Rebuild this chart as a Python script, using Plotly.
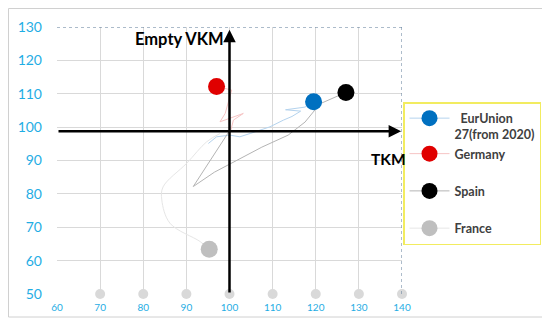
import plotly.graph_objects as go

# ---- data ----
countries = ["\u00a0\u00a0EurUnion<br>27(from 2020)", "Germany", "Spain", "France"]
final_tkm = [119.5, 97.0, 127.0, 95.3]
final_vkm = [107.6, 112.2, 110.4, 63.4]
marker_colors = ["#0070C0", "#E00000", "#000000", "#BFBFBF"]
trail_colors = ["#B4D3EE", "#F6C4C4", "#B4B4B4", "#E6E6E6"]
trail_shapes = ["linear", "linear", "linear", "spline"]
legend_groups = ["a", "a", "b", "c"]

eu_trail_x = [95.1, 97.0, 100.1, 102.4, 104.8, 109.4, 112.5, 114.5, 116.5, 113.0, 117.5, 119.5]
eu_trail_y = [95.1, 97.1, 97.6, 97.1, 98.1, 100.1, 102.1, 103.2, 104.8, 105.2, 106.0, 107.6]
de_trail_x = [100.3, 100.9, 103.2, 97.8, 99.0, 100.5, 97.0]
de_trail_y = [99.0, 102.1, 104.1, 101.6, 104.1, 111.1, 112.2]
es_trail_x = [100.1, 91.6, 96.5, 101.7, 107.5, 113.6, 117.5, 121.0, 127.0]
es_trail_y = [99.1, 82.2, 86.5, 90.1, 94.0, 97.6, 101.5, 107.0, 110.4]
fr_trail_x = [97.8, 94.7, 90.1, 84.6, 84.3, 86.2, 93.2, 95.3]
fr_trail_y = [98.1, 95.6, 89.2, 82.1, 78.2, 71.2, 65.7, 63.4]

base_x = [70, 80, 90, 100, 110, 120, 130, 140]
base_y = [50, 50, 50, 50, 50, 50, 50, 50]

x_ticks = [60, 70, 80, 90, 100, 110, 120, 130, 140]
y_ticks = [50, 60, 70, 80, 90, 100, 110, 120, 130]

trails_x = [eu_trail_x, de_trail_x, es_trail_x, fr_trail_x]
trails_y = [eu_trail_y, de_trail_y, es_trail_y, fr_trail_y]

FONT = "Lato"
TICK_COLOR = "#1FADE4"

fig = go.Figure()

# gray baseline dots
fig.add_trace(go.Scatter(x=base_x, y=base_y, mode="markers",
                         marker=dict(color="#D9D9D9", size=10),
                         showlegend=False, cliponaxis=False, hoverinfo="skip"))

# trails
for i in range(4):
    fig.add_trace(go.Scatter(x=trails_x[i], y=trails_y[i], mode="lines",
                             line=dict(color=trail_colors[i], width=1, shape=trail_shapes[i]),
                             showlegend=False, hoverinfo="skip"))

# end markers (legend entries)
for i in range(4):
    fig.add_trace(go.Scatter(x=[final_tkm[i]], y=[final_vkm[i]], mode="lines+markers",
                             name=countries[i], legendgroup=legend_groups[i],
                             line=dict(color=trail_colors[i], width=1),
                             marker=dict(color=marker_colors[i], size=17)))

# axis arrows
fig.add_annotation(x=139.8, y=98.8, ax=60, ay=98.8, xref="x", yref="y",
                   axref="x", ayref="y", showarrow=True, arrowhead=2,
                   arrowsize=1, arrowwidth=2.5, arrowcolor="black", text="")
fig.add_annotation(x=100, y=129.2, ax=100, ay=50, xref="x", yref="y",
                   axref="x", ayref="y", showarrow=True, arrowhead=2,
                   arrowsize=1, arrowwidth=2.5, arrowcolor="black", text="")

fig.add_annotation(x=99.3, y=126.3, xref="x", yref="y", text="<b>Empty VKM</b>",
                   showarrow=False, xanchor="right",
                   font=dict(family=FONT, size=16.5, color="black"))
fig.add_annotation(x=132.4, y=90.5, xref="x", yref="y", text="<b>TKM</b>",
                   showarrow=False, xanchor="left",
                   font=dict(family=FONT, size=15.5, color="black"))

# dotted top & right borders
fig.add_shape(type="line", x0=60, x1=140, y0=130, y1=130, xref="x", yref="y",
              line=dict(color="#5B7896", width=1, dash="dot"))
fig.add_shape(type="line", x0=140, x1=140, y0=50, y1=130, xref="x", yref="y",
              line=dict(color="#5B7896", width=1, dash="dot"))

# page is offset by 8px body margin
OFF = 8
W, H = 550 - OFF, 322 - OFF
PL, PR, PT, PB = 57, 402, 27, 294   # plot area in page pixels
L, T = PL - OFF, PT - OFF
R = (OFF + W) - PR
B = (OFF + H) - PB
pw, ph = PR - PL, PB - PT
def px2x(p): return (p - PL) / pw
def py2y(p): return (PB - p) / ph

# outer frame
fig.add_shape(type="rect", xref="paper", yref="paper",
              x0=px2x(OFF + 0.5), x1=px2x(547), y0=py2y(317), y1=py2y(OFF + 0.5),
              line=dict(color="#D0D0D0", width=1), layer="below")

fig.update_xaxes(range=[60, 140], tickvals=x_ticks, showgrid=True,
                 gridcolor="#D9D9D9", gridwidth=1, zeroline=False,
                 showline=False, ticks="", ticklabelstandoff=6,
                 tickfont=dict(family=FONT, size=10, color=TICK_COLOR))
fig.update_yaxes(range=[50, 130], tickvals=y_ticks, showgrid=True,
                 gridcolor="#D9D9D9", gridwidth=1, zeroline=False,
                 showline=False, ticks="", ticklabelstandoff=14,
                 tickfont=dict(family=FONT, size=14, color=TICK_COLOR))

fig.update_layout(
    width=W, height=H,
    margin=dict(l=L, r=R, t=T, b=B, autoexpand=False),
    plot_bgcolor="white", paper_bgcolor="white",
    showlegend=True,
    legend=dict(x=px2x(403), y=py2y(102), xanchor="left", yanchor="top",
                bordercolor="#F2EC60", borderwidth=1.5, bgcolor="white",
                font=dict(family=FONT, size=12.5, color="#404040", weight="bold"),
                tracegroupgap=18, valign="top", itemwidth=40),
)

fig.write_html("out.html")
